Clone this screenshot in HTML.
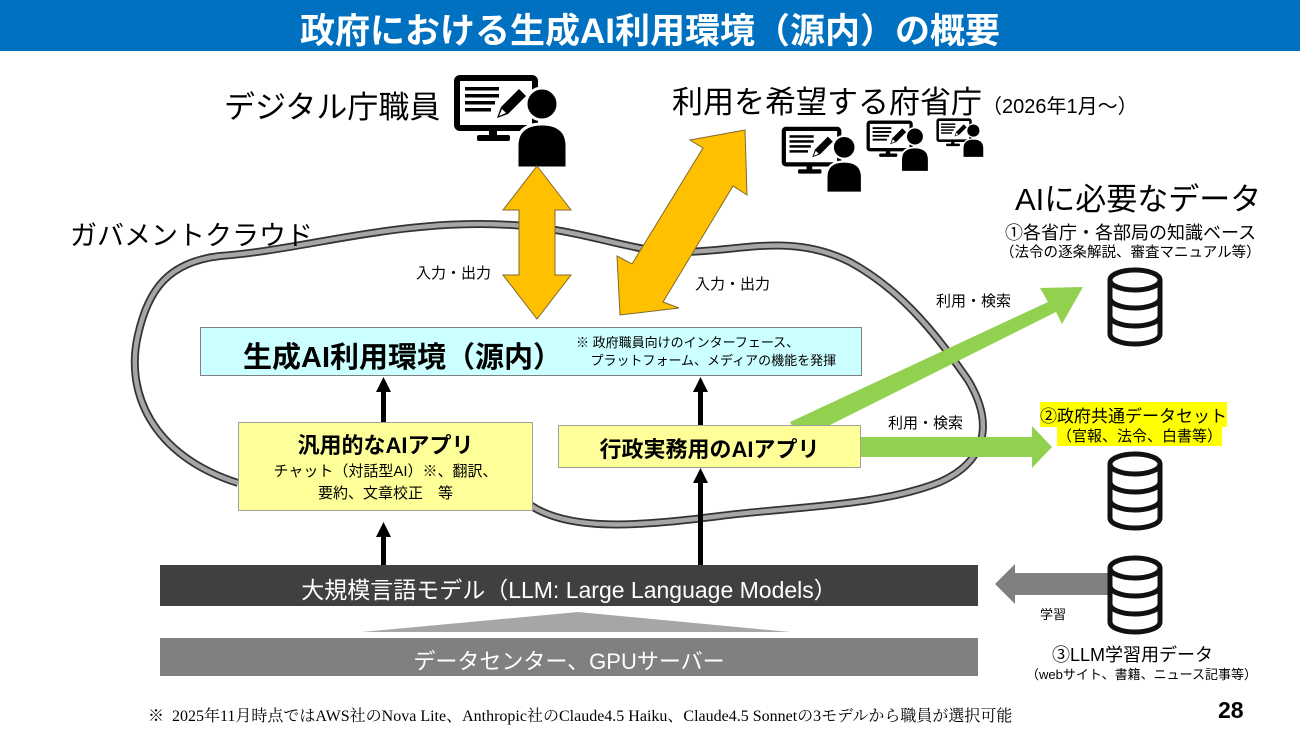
<!DOCTYPE html>
<html><head><meta charset="utf-8">
<style>
html,body{margin:0;padding:0;background:#fff;}
body{width:1300px;height:734px;position:relative;overflow:hidden;font-family:"Liberation Sans","Noto Sans CJK JP",sans-serif;}
.t{position:absolute;white-space:nowrap;color:#000;}
</style></head><body>
<svg width="1300" height="734" style="position:absolute;left:0;top:0" xmlns="http://www.w3.org/2000/svg">
<defs>
<g id="ic">
<rect x="4" y="4" width="78" height="50" rx="3" fill="#fff" stroke="#000" stroke-width="6"/>
<rect x="12" y="13" width="34" height="3.5"/><rect x="12" y="20" width="34" height="3.5"/><rect x="12" y="27" width="30" height="3.5"/><rect x="12" y="34" width="26" height="3.5"/>
<path d="M44 44 L48 33 L66 15 L73 22 L55 40 Z" fill="#000"/>
<path d="M46 42 L49 35 L53 39 Z" fill="#fff"/>
<rect x="36" y="56" width="8" height="7"/><rect x="24" y="61" width="33" height="6" rx="2"/>
<path d="M64 94 L64 72 Q64 50 89 50 Q114 50 114 72 L114 94 Z" fill="#000" stroke="#fff" stroke-width="3"/>
<circle cx="89" cy="30" r="16" fill="#000" stroke="#fff" stroke-width="3"/>
</g>
<g id="db">
<path d="M3 12 L3 66 A25 10 0 0 0 53 66 L53 12" fill="#fff" stroke="#111" stroke-width="5"/>
<ellipse cx="28" cy="12" rx="25" ry="10" fill="#fff" stroke="#111" stroke-width="5"/>
<path d="M3 30 A25 10 0 0 0 53 30 M3 48 A25 10 0 0 0 53 48" fill="none" stroke="#111" stroke-width="5"/>
</g>
</defs>
<rect x="0" y="0" width="1300" height="51" fill="#0070C0"/>
<path d="M238,483 C150,455 125,390 138,335 C148,290 168,262 220,256 C300,250 380,224 480,224 C580,224 620,252 680,252 C740,252 790,232 850,262 C905,292 940,340 968,380 C995,425 985,462 940,482 C880,506 800,506 720,516 C640,526 570,532 530,505" fill="none" stroke="#333" stroke-width="8"/>
<path d="M238,483 C150,455 125,390 138,335 C148,290 168,262 220,256 C300,250 380,224 480,224 C580,224 620,252 680,252 C740,252 790,232 850,262 C905,292 940,340 968,380 C995,425 985,462 940,482 C880,506 800,506 720,516 C640,526 570,532 530,505" fill="none" stroke="#a6a6a6" stroke-width="4.5"/>
<use href="#ic" transform="translate(453,74)"/>
<use href="#ic" transform="translate(781,126) scale(0.71)"/>
<use href="#ic" transform="translate(866,120) scale(0.55)"/>
<use href="#ic" transform="translate(936,118) scale(0.42)"/>
<path d="M537,166 L571,210 L555,210 L555,275 L571,275 L537,319 L503,275 L519,275 L519,210 L503,210 Z" fill="#FFC000" stroke="#7f6a30" stroke-width="1"/>
<path d="M745,130 L747,195 L733,186 L663,302 L679,308 L620,315 L617,256 L632,264 L703,148 L690,140 Z" fill="#FFC000" stroke="#7f6a30" stroke-width="1"/>
<path d="M790,422 L1048,302 L1040,288 L1083,287 L1062,324 L1056,312 L800,440 Z" fill="#92D050"/>
<path d="M860,437 L1032,437 L1032,426 L1052,447 L1032,468 L1032,457 L860,457 Z" fill="#92D050"/>
<g fill="#000">
<rect x="381" y="390" width="5" height="42"/><path d="M376,392 L383.5,377 L391,392 Z"/>
<rect x="381" y="535" width="5" height="30"/><path d="M376,537 L383.5,522 L391,537 Z"/>
<rect x="698" y="390" width="5" height="36"/><path d="M693,392 L700.5,377 L708,392 Z"/>
<rect x="698" y="481" width="5" height="84"/><path d="M693,483 L700.5,468 L708,483 Z"/>
</g>
<rect x="200.5" y="327.5" width="661" height="48" fill="#CCFFFF" stroke="#7f7f7f"/>
<rect x="238.5" y="422.5" width="294" height="88" fill="#FFFF99" stroke="#a0a0a0"/>
<rect x="558.5" y="425.5" width="302" height="42" fill="#FFFF99" stroke="#a0a0a0"/>
<rect x="160" y="565" width="818" height="41" fill="#404040"/>
<path d="M362,632 L578,612 L790,632 Z" fill="#a6a6a6"/>
<rect x="160" y="638" width="818" height="38" fill="#808080"/>
<path d="M1112,573 L1015,573 L1015,564 L995,584 L1015,604 L1015,595 L1112,595 Z" fill="#808080"/>
<use href="#db" transform="translate(1107,268)"/>
<use href="#db" transform="translate(1107,452)"/>
<use href="#db" transform="translate(1107,556)"/>
</svg>
<div class="t" style="left:0;width:1300px;text-align:center;top:3px;font-size:35px;font-weight:bold;color:#fff;">政府における生成AI利用環境（源内）の概要</div>
<div class="t" style="left:224px;top:82px;font-size:31px;">デジタル庁職員</div>
<div class="t" style="left:672px;top:77px;font-size:31px;">利用を希望する府省庁<span style="font-size:20px;">（2026年1月～）</span></div>
<div class="t" style="left:1015px;top:174px;font-size:31px;">AIに必要なデータ</div>
<div class="t" style="left:1005px;top:219px;font-size:18px;">①各省庁・各部局の知識ベース</div>
<div class="t" style="left:1000px;top:241px;font-size:14.5px;">（法令の逐条解説、審査マニュアル等）</div>
<div class="t" style="left:70px;top:214px;font-size:27px;">ガバメントクラウド</div>
<div class="t" style="left:416px;top:262px;font-size:15px;">入力・出力</div>
<div class="t" style="left:695px;top:273px;font-size:15px;">入力・出力</div>
<div class="t" style="left:936px;top:290px;font-size:15px;">利用・検索</div>
<div class="t" style="left:888px;top:412px;font-size:15px;">利用・検索</div>
<div class="t" style="left:243px;top:334px;font-size:29px;font-weight:bold;">生成AI利用環境（源内）</div>
<div class="t" style="left:576px;top:334px;font-size:13px;line-height:18px;">※ 政府職員向けのインターフェース、<br>&nbsp;&nbsp;&nbsp;&nbsp;プラットフォーム、メディアの機能を発揮</div>
<div class="t" style="left:238px;width:295px;text-align:center;top:428px;font-size:22px;font-weight:bold;">汎用的なAIアプリ</div>
<div class="t" style="left:238px;width:295px;text-align:center;top:461px;font-size:15px;line-height:22px;">チャット（対話型AI）※、翻訳、<br>要約、文章校正　等</div>
<div class="t" style="left:558px;width:303px;text-align:center;top:432px;font-size:22px;font-weight:bold;">行政実務用のAIアプリ</div>
<div class="t" style="left:1040px;top:402px;font-size:17px;background:#FFFF00;">②政府共通データセット</div>
<div class="t" style="left:1057px;top:425px;font-size:15px;background:#FFFF00;">（官報、法令、白書等）</div>
<div class="t" style="left:160px;width:818px;text-align:center;top:571px;font-size:23px;color:#fff;">大規模言語モデル（LLM: Large Language Models）</div>
<div class="t" style="left:160px;width:818px;text-align:center;top:644px;font-size:22px;color:#fff;">データセンター、GPUサーバー</div>
<div class="t" style="left:1040px;top:604px;font-size:13px;">学習</div>
<div class="t" style="left:1052px;top:641px;font-size:18px;">③LLM学習用データ</div>
<div class="t" style="left:1026px;top:664px;font-size:13px;">（webサイト、書籍、ニュース記事等）</div>
<div class="t" style="left:148px;top:703px;font-size:16px;font-family:'Liberation Serif','Noto Serif CJK SC',serif;">※&nbsp;&nbsp;2025年11月時点ではAWS社のNova Lite、Anthropic社のClaude4.5 Haiku、Claude4.5 Sonnetの3モデルから職員が選択可能</div>
<div class="t" style="left:1218px;top:697px;font-size:23px;font-weight:bold;">28</div>
</body></html>
